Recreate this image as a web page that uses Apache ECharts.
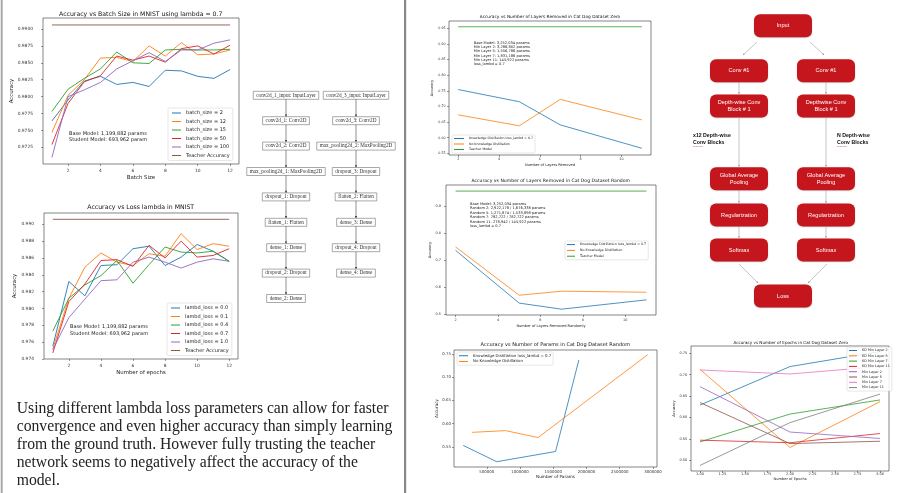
<!DOCTYPE html>
<html>
<head>
<meta charset="utf-8">
<script src="https://cdn.jsdelivr.net/npm/echarts@6.0.0/dist/echarts.min.js"></script>
<style>
  html, body { margin: 0; padding: 0; background: #fff; }
  #poster { width: 904px; height: 493px; }
</style>
</head>
<body>
<div id="poster"></div>
<script>
const FONT = '"DejaVu Sans"';
const TAB = ['#1f77b4', '#ff7f0e', '#2ca02c', '#d62728', '#9467bd', '#8c564b', '#e377c2', '#7f7f7f'];

// ---- MNIST: batch size (lambda = 0.7)
const epochs = [1, 2, 3, 4, 5, 6, 7, 8, 9, 10, 11, 12];
const batch2 = [0.9764, 0.9795, 0.9823, 0.9830, 0.9818, 0.9821, 0.9815, 0.9839, 0.9838, 0.9830, 0.9827, 0.9840];
const batch12 = [0.9747, 0.9802, 0.9825, 0.9857, 0.9858, 0.9852, 0.9875, 0.9860, 0.9880, 0.9862, 0.9863, 0.9869];
const batch15 = [0.9778, 0.9811, 0.9827, 0.9841, 0.9866, 0.9850, 0.9849, 0.9869, 0.9870, 0.9869, 0.9869, 0.9870];
const batch50 = [0.9729, 0.9790, 0.9822, 0.9831, 0.9860, 0.9854, 0.9860, 0.9851, 0.9871, 0.9875, 0.9863, 0.9876];
const batch100 = [0.9710, 0.9800, 0.9810, 0.9821, 0.9841, 0.9853, 0.9865, 0.9852, 0.9869, 0.9869, 0.9879, 0.9884];
const batchNames = ['batch_size = 2', 'batch_size = 12', 'batch_size = 15', 'batch_size = 50', 'batch_size = 100'];
const mnistTeacher = 0.9906;
const batchYTicks = [0.9725, 0.975, 0.9775, 0.98, 0.9825, 0.985, 0.9875, 0.99];
const epochTicks = [2, 4, 6, 8, 10, 12];

// ---- MNIST: loss lambda
const lambd00 = [0.9755, 0.9832, 0.9815, 0.9851, 0.9852, 0.9871, 0.9874, 0.9851, 0.9861, 0.9876, 0.9868, 0.9856];
const lambd01 = [0.9752, 0.9812, 0.9849, 0.9866, 0.9855, 0.9851, 0.9865, 0.9862, 0.9889, 0.9870, 0.9877, 0.9874];
const lambd04 = [0.9773, 0.9812, 0.9828, 0.9839, 0.9857, 0.9830, 0.9852, 0.9873, 0.9867, 0.9866, 0.9868, 0.9856];
const lambd07 = [0.9747, 0.9808, 0.9829, 0.9857, 0.9858, 0.9850, 0.9875, 0.9860, 0.9880, 0.9861, 0.9863, 0.9871];
const lambd10 = [0.9751, 0.9789, 0.9811, 0.9833, 0.9834, 0.9855, 0.9861, 0.9855, 0.9848, 0.9855, 0.9859, 0.9856];
const lambdNames = ['lambd_loss = 0.0', 'lambd_loss = 0.1', 'lambd_loss = 0.4', 'lambd_loss = 0.7', 'lambd_loss = 1.0'];
const lambdYTicks = [0.974, 0.976, 0.978, 0.98, 0.982, 0.984, 0.986, 0.988, 0.99];

// ---- Cat Dog: layers removed
const layersRemoved = [2, 5, 7, 11];
const zeroKD = [0.754, 0.715, 0.641, 0.566];
const zeroNoKD = [0.673, 0.638, 0.7225, 0.657];
const randomKD = [0.736, 0.541, 0.5185, 0.553];
const randomNoKD = [0.7486, 0.570, 0.585, 0.5812];
const catDogTeacher = 0.955;
const kdName = 'Knowledge Distillation loss_lambd = 0.7';
const noKdName = 'No Knowledge Distillation';
const teacherName = 'Teacher Model';
const zeroYTicks = [0.55, 0.6, 0.65, 0.7, 0.75, 0.8, 0.85, 0.9, 0.95];
const randomYTicks = [0.5, 0.6, 0.7, 0.8, 0.9];
const layerTicks = [2, 4, 6, 8, 10];

// ---- Cat Dog: params
const paramsKD = [145922, 650000, 1535000, 1885000];
const paramsAccKD = [0.553, 0.518, 0.540, 0.737];
const paramsNoKD = [278942, 782722, 1271874, 2922178];
const paramsAccNoKD = [0.5812, 0.5849, 0.570, 0.7486];
const paramsXTicks = [500000, 1000000, 1500000, 2000000, 2500000, 3000000];
const paramsYTicks = [0.55, 0.6, 0.65, 0.7, 0.75];

// ---- Cat Dog: epochs
const epochs3 = [1, 2, 3];
const epochNames = ['KD Min Layer 2', 'KD Min Layer 5', 'KD Min Layer 7', 'KD Min Layer 11',
  'Min Layer 2', 'Min Layer 5', 'Min Layer 7', 'Min Layer 11'];
const kdMin2 = [0.629, 0.719, 0.754];
const kdMin5 = [0.7125, 0.530, 0.637];
const kdMin7 = [0.543, 0.608, 0.641];
const kdMin11 = [0.547, 0.541, 0.5625];
const min2 = [0.672, 0.566, 0.551];
const min5 = [0.635, 0.539, 0.5445];
const min7 = [0.711, 0.7016, 0.719];
const min11 = [0.488, 0.588, 0.6547];
const epochXTicks = [1, 1.25, 1.5, 1.75, 2, 2.25, 2.5, 2.75, 3];
const epochYTicks = [0.5, 0.55, 0.6, 0.65, 0.7, 0.75];

const grids = [], xAxes = [], yAxes = [], series = [], legends = [], graphics = [];

function txt(x, y, text, size, o) {
  o = o || {};
  graphics.push({
    type: 'text', x: x, y: y, silent: true, z: o.z || 10,
    style: {
      text: text,
      font: (o.weight || 'normal') + ' ' + size + 'px ' + (o.family || FONT),
      fill: o.color || '#222',
      textAlign: o.align || 'left',
      textVerticalAlign: o.valign || 'middle',
      lineHeight: o.lh || Math.round(size * 1.2 * 10) / 10
    }
  });
}

function addPlot(p) {
  const gi = grids.length;
  const b = p.box;
  grids.push({ left: b[0], top: b[1], width: b[2], height: b[3], show: true,
    borderColor: '#333', borderWidth: 0.6, backgroundColor: '#fff' });
  const tick = { show: true, length: 2, lineStyle: { color: '#333', width: 0.5 } };
  const nameStyle = { fontSize: p.nf, color: '#222', fontFamily: 'DejaVu Sans' };
  xAxes.push({
    gridIndex: gi, type: 'value', min: p.xr[0], max: p.xr[1],
    axisLine: { show: false }, splitLine: { show: false },
    axisTick: Object.assign({ customValues: p.xt }, tick),
    axisLabel: { show: true, customValues: p.xt, formatter: p.xf, fontSize: p.tf,
      color: '#333', fontFamily: 'DejaVu Sans', margin: p.xm },
    name: p.xn, nameLocation: 'middle', nameGap: p.xg, nameTextStyle: nameStyle
  });
  yAxes.push({
    gridIndex: gi, type: 'value', min: p.yr[0], max: p.yr[1],
    axisLine: { show: false }, splitLine: { show: false },
    axisTick: Object.assign({ customValues: p.yt }, tick),
    axisLabel: { show: true, customValues: p.yt, formatter: p.yf, fontSize: p.tf,
      color: '#333', fontFamily: 'DejaVu Sans', margin: p.ym },
    name: 'Accuracy', nameLocation: 'middle', nameGap: p.yg, nameTextStyle: nameStyle
  });
  p.lines.forEach(function (l) {
    series.push({
      type: 'line', name: l.name, xAxisIndex: gi, yAxisIndex: gi,
      data: l.xs.map(function (x, i) { return [x, l.ys[i]]; }),
      symbol: 'none', showSymbol: false, color: l.color, silent: true,
      lineStyle: { width: p.lw, color: l.color }, itemStyle: { color: l.color }
    });
  });
  const lg = p.legend;
  legends.push({
    data: p.lines.map(function (l) { return l.name; }),
    orient: 'vertical', left: lg.left, top: lg.top, padding: lg.pad,
    itemWidth: lg.iw, itemHeight: 1, itemGap: lg.gap, icon: 'rect', selectedMode: false,
    textStyle: { fontSize: lg.fs, lineHeight: lg.lh, color: '#222', fontFamily: 'DejaVu Sans' },
    backgroundColor: 'rgba(255,255,255,0.85)', borderColor: '#cfcfcf', borderWidth: 0.5, borderRadius: 1.5
  });
  txt(p.title[0], p.title[1], p.title[2], p.title[3], { align: 'center', color: '#111' });
  if (p.note) txt(p.note[0], p.note[1], p.note[2], p.note[3], { lh: p.note[4], valign: 'top', color: '#222' });
}

function flat(xs, v) { return [xs[0], xs[xs.length - 1]].map(function () { return v; }); }
function ends(xs) { return [xs[0], xs[xs.length - 1]]; }

// 1. batch size
addPlot({
  box: [43, 18, 196, 146], xr: [0.45, 12.55], yr: [0.97003, 0.99163],
  xt: epochTicks, yt: batchYTicks, xf: function (v) { return String(v); },
  yf: function (v) { return v.toFixed(4); },
  tf: 4.4, nf: 5.4, xm: 5, ym: 10, xg: 11, yg: 25, lw: 0.9,
  xn: 'Batch Size',
  lines: [batch2, batch12, batch15, batch50, batch100].map(function (ys, i) {
    return { name: batchNames[i], xs: epochs, ys: ys, color: TAB[i] };
  }).concat([{ name: 'Teacher Accuracy', xs: ends(epochs), ys: flat(epochs, mnistTeacher), color: TAB[5] }]),
  legend: { left: 168, top: 108, pad: [2, 3, 2, 4], iw: 9, gap: 2.5, fs: 5, lh: 6 },
  title: [140.7, 14, 'Accuracy vs Batch Size in MNIST using lambda = 0.7', 6.2],
  note: [69, 130, 'Base Model: 1,199,882 params\nStudent Model: 693,962 param', 5, 6.6]
});

// 2. loss lambda
addPlot({
  box: [44, 213, 194, 146], xr: [0.45, 12.55], yr: [0.97398, 0.99135],
  xt: epochTicks, yt: lambdYTicks, xf: function (v) { return String(v); },
  yf: function (v) { return v.toFixed(3); },
  tf: 4.4, nf: 5.4, xm: 5, ym: 10, xg: 11, yg: 21, lw: 0.9,
  xn: 'Number of epochs',
  lines: [lambd00, lambd01, lambd04, lambd07, lambd10].map(function (ys, i) {
    return { name: lambdNames[i], xs: epochs, ys: ys, color: TAB[i] };
  }).concat([{ name: 'Teacher Accuracy', xs: ends(epochs), ys: flat(epochs, mnistTeacher), color: TAB[5] }]),
  legend: { left: 167, top: 303, pad: [2, 3, 2, 4], iw: 9, gap: 2.5, fs: 5, lh: 6 },
  title: [140.7, 207.3, 'Accuracy vs Loss lambda in MNIST', 6.2],
  note: [70, 323.6, 'Base Model: 1,199,882 params\nStudent Model: 693,962 param', 5, 6.6]
});

// 3. layers removed, zero
addPlot({
  box: [449, 21, 202, 134], xr: [1.55, 11.45], yr: [0.5445, 0.9735],
  xt: layerTicks, yt: zeroYTicks, xf: function (v) { return String(v); },
  yf: function (v) { return v.toFixed(2); },
  tf: 3.3, nf: 3.6, xm: 2.5, ym: 3.3, xg: 8, yg: 11, lw: 0.8,
  xn: 'Number of Layers Removed',
  lines: [
    { name: kdName, xs: layersRemoved, ys: zeroKD, color: TAB[0] },
    { name: noKdName, xs: layersRemoved, ys: zeroNoKD, color: TAB[1] },
    { name: teacherName, xs: ends(layersRemoved), ys: flat(layersRemoved, catDogTeacher), color: TAB[2] }
  ],
  legend: { left: 452, top: 135, pad: [1.5, 2, 1.5, 2], iw: 10, gap: 1.5, fs: 3.2, lh: 4 },
  title: [550, 16.7, 'Accuracy vs Number of Layers Removed in Cat Dog Dataset Zero', 4.3],
  note: [473.7, 40.5, 'Base Model: 3,252,034 params\nMin Layer 2: 3,286,802 params\nMin Layer 5: 1,556,786 params\nMin Layer 7: 1,831,186 params\nMin Layer 11: 145,922 params\nloss_lambd = 0.7', 3.6, 4.33]
});

// 4. layers removed, random
addPlot({
  box: [446, 185, 210, 130], xr: [1.55, 11.45], yr: [0.497, 0.9775],
  xt: layerTicks, yt: randomYTicks, xf: function (v) { return String(v); },
  yf: function (v) { return v.toFixed(1); },
  tf: 3.4, nf: 3.6, xm: 4, ym: 5, xg: 9, yg: 11, lw: 0.8,
  xn: 'Number of Layers Removed Randomly',
  lines: [
    { name: kdName, xs: layersRemoved, ys: randomKD, color: TAB[0] },
    { name: noKdName, xs: layersRemoved, ys: randomNoKD, color: TAB[1] },
    { name: teacherName, xs: ends(layersRemoved), ys: flat(layersRemoved, catDogTeacher), color: TAB[2] }
  ],
  legend: { left: 565, top: 241, pad: [1.5, 2, 1.5, 2], iw: 8, gap: 1.6, fs: 3.3, lh: 4.2 },
  title: [550.7, 181, 'Accuracy vs Number of Layers Removed in Cat Dog Dataset Random', 4.6],
  note: [470, 201.8, 'Base Model: 3,252,034 params\nRandom 2: 2,922,178 / 1,676,338 params\nRandom 5: 1,271,874 / 1,533,898 params\nRandom 7: 782,722 / 782,722 params\nRandom 11: 278,942 / 145,922 params\nloss_lambd = 0.7', 3.6, 4.45]
});

// 5. number of params
addPlot({
  box: [454, 350, 203, 117], xr: [7109, 3060991], yr: [0.5066, 0.7585],
  xt: paramsXTicks, yt: paramsYTicks, xf: function (v) { return String(Math.round(v)); },
  yf: function (v) { return v.toFixed(2); },
  tf: 3.9, nf: 4.2, xm: 2.5, ym: 3, xg: 8, yg: 14, lw: 0.8,
  xn: 'Number of Params',
  lines: [
    { name: kdName, xs: paramsKD, ys: paramsAccKD, color: TAB[0] },
    { name: noKdName, xs: paramsNoKD, ys: paramsAccNoKD, color: TAB[1] }
  ],
  legend: { left: 457, top: 352, pad: [1.5, 2, 1.5, 2], iw: 9, gap: 1.2, fs: 3.9, lh: 4.5 },
  title: [555.3, 345, 'Accuracy vs Number of Params in Cat Dog Dataset Random', 5]
});

// 6. epochs
addPlot({
  box: [691, 346, 198, 125], xr: [0.9, 3.1], yr: [0.475, 0.767],
  xt: epochXTicks, yt: epochYTicks, xf: function (v) { return v.toFixed(2); },
  yf: function (v) { return v.toFixed(2); },
  tf: 3.5, nf: 3.6, xm: 1, ym: 3.7, xg: 5.2, yg: 12.5, lw: 0.8,
  xn: 'Number of Epochs',
  lines: [kdMin2, kdMin5, kdMin7, kdMin11, min2, min5, min7, min11].map(function (ys, i) {
    return { name: epochNames[i], xs: epochs3, ys: ys, color: TAB[i] };
  }),
  legend: { left: 847, top: 347, pad: [1.5, 2, 1.5, 2], iw: 8, gap: 1.3, fs: 3.4, lh: 4 },
  title: [790.7, 342.7, 'Accuracy vs Number of Epochs in Cat Dog Dataset Zero', 4.1]
});

// ---- Keras model graphs (middle)
const netLeft = ['conv2d_1_input: InputLayer', 'conv2d_1: Conv2D', 'conv2d_2: Conv2D',
  'max_pooling2d_1: MaxPooling2D', 'dropout_1: Dropout', 'flatten_1: Flatten',
  'dense_1: Dense', 'dropout_2: Dropout', 'dense_2: Dense'];
const netRight = ['conv2d_3_input: InputLayer', 'conv2d_3: Conv2D', 'max_pooling2d_2: MaxPooling2D',
  'dropout_3: Dropout', 'flatten_2: Flatten', 'dense_3: Dense', 'dropout_4: Dropout', 'dense_4: Dense'];

const measureCtx = document.createElement('canvas').getContext('2d');
const NET_SIZE = 5.2;
measureCtx.font = NET_SIZE + 'px "Liberation Serif"';

function arrowHead(x1, y1, x2, y2, s, color) {
  const a = Math.atan2(y2 - y1, x2 - x1);
  const w = s * 0.45;
  const bx = x2 - s * Math.cos(a), by = y2 - s * Math.sin(a);
  graphics.push({ type: 'polygon', silent: true, z: 5,
    shape: { points: [[x2, y2], [bx + w * Math.sin(a), by - w * Math.cos(a)], [bx - w * Math.sin(a), by + w * Math.cos(a)]] },
    style: { fill: color } });
}
function arrow(x1, y1, x2, y2, color, lw, s) {
  graphics.push({ type: 'line', silent: true, z: 5, shape: { x1: x1, y1: y1, x2: x2, y2: y2 },
    style: { stroke: color, lineWidth: lw } });
  arrowHead(x1, y1, x2, y2, s, color);
}

function netColumn(labels, cx) {
  const y0 = 95.3, pitch = 25.4, h = 8;
  labels.forEach(function (s, i) {
    const cy = y0 + i * pitch;
    const w = measureCtx.measureText(s).width + 6;
    graphics.push({ type: 'rect', silent: true, z: 5,
      shape: { x: cx - w / 2, y: cy - h / 2, width: w, height: h },
      style: { fill: '#fff', stroke: '#555', lineWidth: 0.5 } });
    txt(cx, cy, s, NET_SIZE, { align: 'center', family: '"Liberation Serif"', color: '#333' });
    if (i < labels.length - 1) arrow(cx, cy + h / 2, cx, cy + pitch - h / 2, '#222', 0.5, 2.2);
  });
}
netColumn(netLeft, 286);
netColumn(netRight, 356);

// ---- MobileNet style flowchart (top right)
const flowLeft = ['Conv #1', 'Depth-wise Conv\nBlock # 1', 'Global Average\nPooling', 'Regularization', 'Softmax'];
const flowRight = ['Conv #1', 'Depthwise Conv\nBlock # 1', 'Global Average\nPooling', 'Regularization', 'Softmax'];
const flowRows = [70.7, 106, 178.7, 215, 250];
const FLOW_RED = '#c4161c';
const BW = 58, BH = 23;

function flowBox(cx, cy, label) {
  graphics.push({ type: 'rect', silent: true, z: 5,
    shape: { x: cx - BW / 2, y: cy - BH / 2, width: BW, height: BH, r: 6 },
    style: { fill: FLOW_RED, shadowBlur: 1.5, shadowColor: 'rgba(0,0,0,0.25)', shadowOffsetY: 0.5 } });
  txt(cx, cy, label, 5.6, { align: 'center', family: '"Liberation Sans"', color: '#fff', lh: 7 });
}
flowBox(783, 25.7, 'Input');
flowBox(783, 296, 'Loss');
[[739, flowLeft], [826, flowRight]].forEach(function (col) {
  const cx = col[0];
  col[1].forEach(function (s, i) {
    flowBox(cx, flowRows[i], s);
    if (i < flowRows.length - 1) {
      arrow(cx, flowRows[i] + BH / 2, cx, flowRows[i + 1] - BH / 2 - 0.5, '#8a8a8a', 0.5, 1.8);
    }
  });
});
arrow(757, 42, 743, 55, '#8a8a8a', 0.5, 1.8);
arrow(810, 42, 824, 55, '#8a8a8a', 0.5, 1.8);
arrow(739, 264, 758, 283, '#8a8a8a', 0.5, 1.8);
arrow(827, 264, 808, 283, '#8a8a8a', 0.5, 1.8);
txt(693, 139.5, 'x12 Depth-wise\nConv Blocks', 5.2, { weight: 'bold', family: '"Liberation Sans"', color: '#111', lh: 7 });
txt(837, 139.5, 'N Depth-wise\nConv Blocks', 5.2, { weight: 'bold', family: '"Liberation Sans"', color: '#111', lh: 7 });
graphics.push({ type: 'line', silent: true, z: 5, shape: { x1: 693, y1: 146.5, x2: 703, y2: 146.5 },
  style: { stroke: '#e03030', lineWidth: 0.6, lineDash: [0.8, 0.6] } });
graphics.push({ type: 'line', silent: true, z: 5, shape: { x1: 837, y1: 146.5, x2: 847, y2: 146.5 },
  style: { stroke: '#e03030', lineWidth: 0.6, lineDash: [0.8, 0.6] } });

// ---- conclusion paragraph
const conclusion = [
  'Using different lambda loss parameters can allow for faster',
  'convergence and even higher accuracy than simply learning',
  'from the ground truth. However fully trusting the teacher',
  'network seems to negatively affect the accuracy of the',
  'model.'
];
txt(16.7, 400, conclusion.join('\n'), 15.7, { family: '"Liberation Serif"', color: '#222', valign: 'top', lh: 18 });

// ---- poster frame
graphics.push({ type: 'rect', silent: true, z: 1, shape: { x: 0.7, y: 0, width: 2, height: 493 }, style: { fill: '#a8a8a8' } });
graphics.push({ type: 'rect', silent: true, z: 1, shape: { x: 404, y: 0, width: 2.2, height: 493 }, style: { fill: '#888' } });

const chart = echarts.init(document.getElementById('poster'));
chart.setOption({
  animation: false,
  backgroundColor: '#fff',
  grid: grids,
  xAxis: xAxes,
  yAxis: yAxes,
  legend: legends,
  series: series,
  graphic: { elements: graphics }
});
window.addEventListener('resize', function () { chart.resize(); });
</script>
</body>
</html>
